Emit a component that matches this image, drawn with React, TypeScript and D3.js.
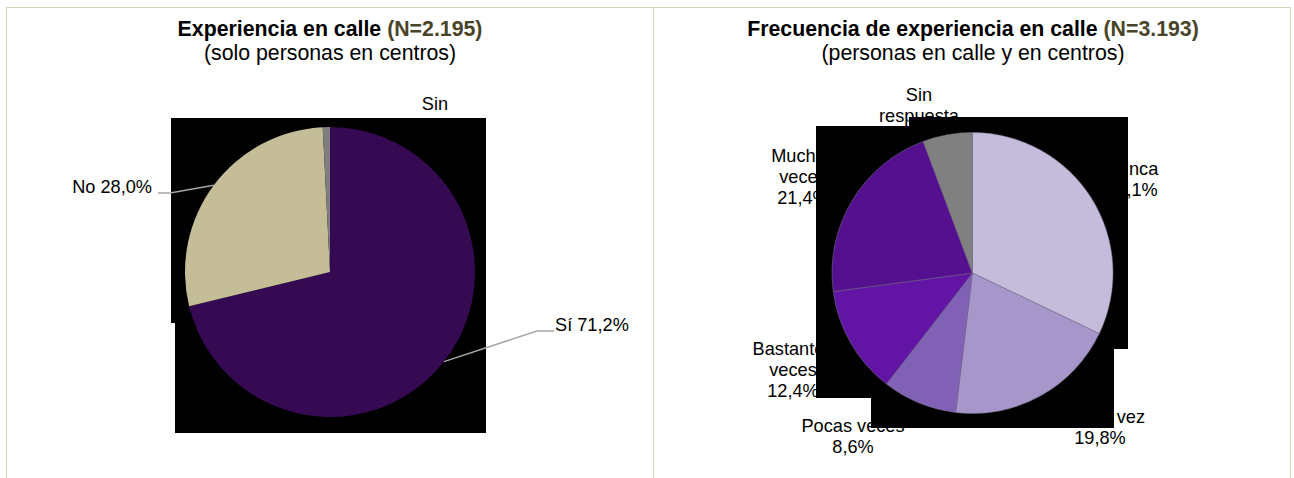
import React from 'react';
import * as d3 from 'd3';

// left chart: experience on the street (people in centres only)
const leftCategories = ['Sí', 'No', 'Sin respuesta'];
const leftValues = [71.2, 28.0, 0.8];
const leftColors = ['#350a52', '#c4bd97', '#7f7f7f'];

// right chart: frequency of street experience
const rightCategories = ['Nunca', 'Alguna vez', 'Pocas veces', 'Bastantes veces', 'Muchas veces', 'Sin respuesta'];
const rightValues = [32.1, 19.8, 8.6, 12.4, 21.4, 5.7];
const rightColors = ['#c5bbdb', '#a796c9', '#8061b5', '#6214a5', '#54108f', '#808080'];

const fmt = (v: number) => v.toFixed(1).replace('.', ',') + '%';

const FONT = "'Liberation Sans', Arial, sans-serif";
const LABEL_SIZE = 18.2;
const LINE_H = 21;

type Label = { lines: string[]; x: number; y: number; anchor: string };

// black blocks that sit behind each pie in the original export
const leftBlocks = [
  [171, 118, 486, 323],
  [175, 323, 486, 433],
];
const rightBlocks = [
  [909, 117, 1128, 349],
  [816, 126, 1000, 398],
  [871, 340, 1114, 428],
];

const Pie: React.FC<{
  cx: number;
  cy: number;
  r: number;
  values: number[];
  colors: string[];
  labels: Label[];
  blocks: number[][];
  leaders?: { index: number; points: [number, number][] }[];
  stroke: string;
}> = ({ cx, cy, r, values, colors, labels, blocks, leaders = [], stroke }) => {
  const arcs = d3.pie<number>().sort(null).value(d => d)(values);
  const arc = d3.arc<d3.PieArcDatum<number>>().innerRadius(0).outerRadius(r);
  const edge = d3.arc<d3.PieArcDatum<number>>().innerRadius(r).outerRadius(r);
  const line = d3.line();

  return (
    <g>
      {labels.map((l, i) => (
        <text key={i} x={l.x} y={l.y} textAnchor={l.anchor} fontFamily={FONT} fontSize={LABEL_SIZE} fill="#000">
          {l.lines.map((t, j) => (
            <tspan key={j} x={l.x} dy={j === 0 ? 0 : LINE_H}>{t}</tspan>
          ))}
        </text>
      ))}
      {blocks.map((b, i) => (
        <rect key={i} x={b[0]} y={b[1]} width={b[2] - b[0]} height={b[3] - b[1]} fill="#000" />
      ))}
      <g transform={`translate(${cx},${cy})`}>
        {arcs.map((a, i) => (
          <path key={i} d={arc(a) || ''} fill={colors[i]} stroke={stroke} strokeWidth={0.5} />
        ))}
      </g>
      {leaders.map((ld, i) => {
        const [ex, ey] = edge.centroid(arcs[ld.index]);
        const pts: [number, number][] = [...ld.points, [cx + ex, cy + ey]];
        return <path key={i} d={line(pts) || ''} fill="none" stroke="#a6a6a6" strokeWidth={1.5} />;
      })}
    </g>
  );
};

const Title: React.FC<{ x: number; main: string; n: string; sub: string }> = ({ x, main, n, sub }) => (
  <g fontFamily={FONT} textAnchor="middle">
    <text x={x} y={36} fontSize={21.3} fontWeight="bold" fill="#000">
      {main}<tspan fill="#494429">{n}</tspan>
    </text>
    <text x={x} y={60} fontSize={21.3} fill="#000">{sub}</text>
  </g>
);

export default function App() {
  const leftLabels: Label[] = [
    { lines: [`${leftCategories[0]} ${fmt(leftValues[0])}`], x: 555, y: 331, anchor: 'start' },
    { lines: [`${leftCategories[1]} ${fmt(leftValues[1])}`], x: 152, y: 193, anchor: 'end' },
    { lines: ['Sin', 'respuesta', fmt(leftValues[2])], x: 435, y: 110, anchor: 'middle' },
  ];

  const rightLabels: Label[] = [
    { lines: [rightCategories[0], fmt(rightValues[0])], x: 1132, y: 175, anchor: 'middle' },
    { lines: [rightCategories[1], fmt(rightValues[1])], x: 1100, y: 423, anchor: 'middle' },
    { lines: [rightCategories[2], fmt(rightValues[2])], x: 853, y: 431.5, anchor: 'middle' },
    { lines: ['Bastantes', 'veces', fmt(rightValues[3])], x: 793, y: 355, anchor: 'middle' },
    { lines: ['Muchas', 'veces', fmt(rightValues[4])], x: 803, y: 162, anchor: 'middle' },
    { lines: ['Sin', 'respuesta', fmt(rightValues[5])], x: 919, y: 101, anchor: 'middle' },
  ];

  return (
    <svg
      width={1294}
      height={478}
      style={{ position: 'absolute', left: 0, top: 0, background: '#fff', display: 'block' }}
    >
      <rect x={0} y={0} width={1294} height={478} fill="#fff" />
      <rect x={6.5} y={7.5} width={647} height={500} fill="none" stroke="#d9d5bd" strokeWidth={1} />
      <rect x={653.5} y={7.5} width={637} height={500} fill="none" stroke="#d9d5bd" strokeWidth={1} />

      <Title x={330} main="Experiencia en calle " n="(N=2.195)" sub="(solo personas en centros)" />
      <Title x={973} main="Frecuencia de experiencia en calle " n="(N=3.193)" sub="(personas en calle y en centros)" />

      <Pie
        cx={330}
        cy={272}
        r={145}
        values={leftValues}
        colors={leftColors}
        labels={leftLabels}
        blocks={leftBlocks}
        stroke="none"
        leaders={[
          { index: 0, points: [[554, 331], [537, 331]] },
          { index: 1, points: [[158, 193], [170, 193]] },
        ]}
      />
      <Pie
        cx={972.5}
        cy={273}
        r={140.5}
        values={rightValues}
        colors={rightColors}
        labels={rightLabels}
        blocks={rightBlocks}
        stroke="#7a7690"
      />
    </svg>
  );
}
